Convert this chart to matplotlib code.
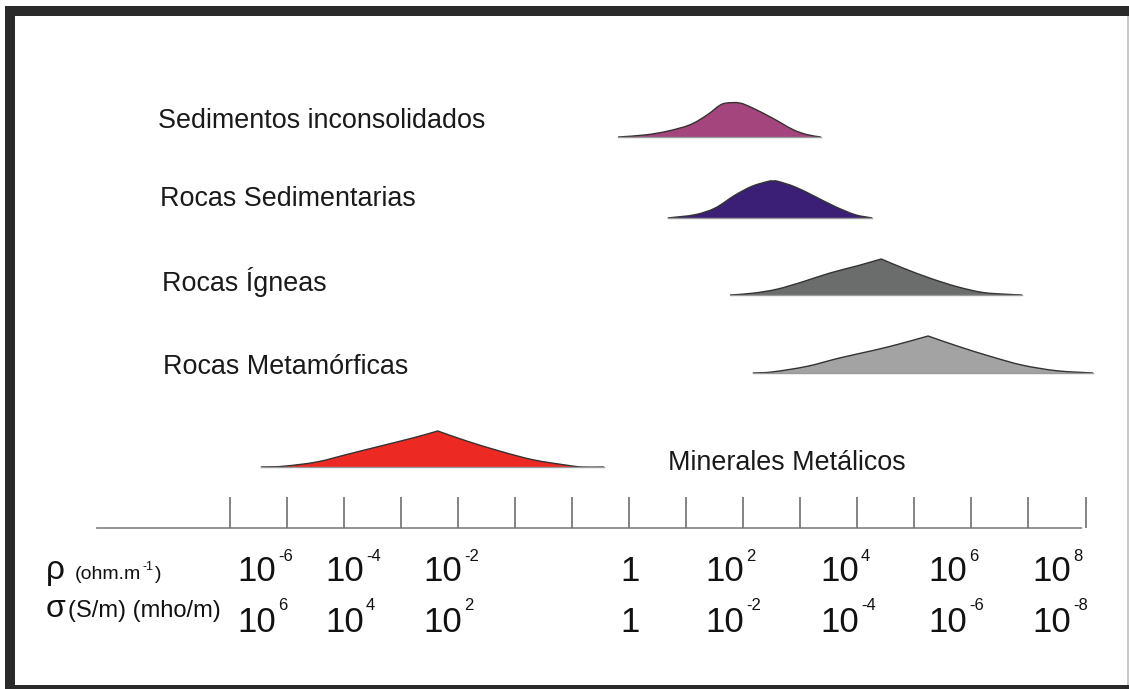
import matplotlib
matplotlib.use("Agg")
import matplotlib.pyplot as plt
from matplotlib.patches import Rectangle, PathPatch
from matplotlib.path import Path
from matplotlib.transforms import offset_copy

plt.rcParams['font.family'] = ['Liberation Sans', 'DejaVu Sans']

# ---------------- data ----------------
categories = ["Sedimentos inconsolidados", "Rocas Sedimentarias", "Rocas Ígneas",
              "Rocas Metamórficas", "Minerales Metálicos"]
colors = ["#a4457d", "#3b1f77", "#6b6c6c", "#a3a3a3", "#ec2a23"]

# log10(resistivity) positions and relative heights of each distribution
sed_inc_x = [-0.19, 0.28, 0.67, 1.07, 1.37, 1.59, 1.72, 1.94, 2.17, 2.52, 2.87, 3.12, 3.36]
sed_inc_h = [0.0, 0.06, 0.17, 0.36, 0.65, 0.93, 1.0, 1.0, 0.85, 0.55, 0.22, 0.07, 0.0]

sed_roc_x = [0.68, 1.16, 1.51, 1.86, 2.16, 2.44, 2.52, 2.61, 2.91, 3.26, 3.61, 3.96, 4.26]
sed_roc_h = [0.0, 0.09, 0.27, 0.62, 0.86, 0.99, 1.0, 0.99, 0.84, 0.58, 0.31, 0.09, 0.0]

ign_x = [1.77, 2.17, 2.59, 3.05, 3.52, 4.00, 4.42, 4.80, 5.27, 5.75, 6.20, 6.62, 6.89]
ign_h = [0.0, 0.05, 0.16, 0.37, 0.61, 0.81, 1.0, 0.75, 0.47, 0.23, 0.07, 0.02, 0.0]

met_x = [2.17, 2.52, 3.12, 3.70, 4.28, 4.75, 5.24, 5.75, 6.33, 6.90, 7.50, 8.13]
met_h = [0.0, 0.03, 0.18, 0.41, 0.61, 0.79, 1.0, 0.73, 0.45, 0.21, 0.06, 0.0]

min_x = [-6.45, -6.06, -5.47, -4.89, -4.31, -3.78, -3.35, -2.84, -2.26, -1.68, -1.09, -0.82, -0.44]
min_h = [0.0, 0.02, 0.14, 0.37, 0.60, 0.81, 1.0, 0.72, 0.44, 0.20, 0.05, 0.0, 0.0]

series_x = [sed_inc_x, sed_roc_x, ign_x, met_x, min_x]
series_h = [sed_inc_h, sed_roc_h, ign_h, met_h, min_h]
pointed_peak = [False, False, True, True, True]

decades = list(range(-7, 9))                  # tick marks (log10 rho)
label_exp = [-6, -4, -2, 0, 2, 4, 6, 8]        # labelled decades

# ---------------- layout ----------------
W, H = 1129, 689
X0, DX = 629.0, 57.07          # pixel of 10^0 and pixels per decade


def px2u(p):
    return (p - X0) / DX


row_base = [137, 218, 295, 373, 467]
row_height = [34, 37, 36, 37, 36]
label_px = [158, 160, 162, 163, 668]
label_base = [128, 206, 291, 374, 470]
tick_label_left = [237, 325, 423, 620, 705, 820, 928, 1032]


def smooth_path(xs, ys, cusp):
    """Catmull-Rom curve through the points as cubic Bezier segments."""
    n = len(xs)
    pk = max(range(n), key=lambda i: -ys[i]) if cusp else None
    tin, tout = [], []
    for i in range(n):
        if i == 0:
            t = (xs[1] - xs[0], ys[1] - ys[0]); a = b = t
        elif i == n - 1:
            t = (xs[i] - xs[i - 1], ys[i] - ys[i - 1]); a = b = t
        elif i == pk:
            a = (xs[i] - xs[i - 1], ys[i] - ys[i - 1])
            b = (xs[i + 1] - xs[i], ys[i + 1] - ys[i])
        else:
            t = ((xs[i + 1] - xs[i - 1]) / 2, (ys[i + 1] - ys[i - 1]) / 2); a = b = t
        tin.append(a); tout.append(b)
    verts = [(xs[0], ys[0])]
    codes = [Path.MOVETO]
    for i in range(n - 1):
        verts += [(xs[i] + tout[i][0] / 3, ys[i] + tout[i][1] / 3),
                  (xs[i + 1] - tin[i + 1][0] / 3, ys[i + 1] - tin[i + 1][1] / 3),
                  (xs[i + 1], ys[i + 1])]
        codes += [Path.CURVE4] * 3
    return verts, codes


fig = plt.figure(figsize=(W / 100, H / 100), dpi=100)

# frame
fig.add_artist(Rectangle((5 / W, 0), 1, (H - 6) / H, transform=fig.transFigure,
                         facecolor="#2a2a2a", edgecolor="none", zorder=-20))
fig.add_artist(Rectangle((15 / W, 4 / H), (1129 - 15) / W, (685 - 16) / H,
                         transform=fig.transFigure, facecolor="#c8c8c8",
                         edgecolor="none", zorder=-19))
fig.add_artist(Rectangle((15 / W, 4 / H), (1127 - 15) / W, (685 - 16) / H,
                         transform=fig.transFigure, facecolor="white",
                         edgecolor="none", zorder=-18))

ax = fig.add_axes([0, 0, 1, 1])
ax.set_xlim(px2u(0), px2u(W))
ax.set_ylim(H, 0)
ax.axis("off")
ax.patch.set_alpha(0)

# distributions
for xs, hs, base, hh, col, cusp in zip(series_x, series_h, row_base, row_height,
                                       colors, pointed_peak):
    ys = [base - h * hh for h in hs]
    verts, codes = smooth_path(xs, ys, cusp)
    fill_verts = verts + [(xs[-1], base), (xs[0], base), (xs[0], ys[0])]
    fill_codes = codes + [Path.LINETO, Path.LINETO, Path.CLOSEPOLY]
    ax.add_patch(PathPatch(Path(fill_verts, fill_codes), facecolor=col,
                           edgecolor="none", zorder=2))
    ax.add_patch(PathPatch(Path(verts, codes), facecolor="none",
                           edgecolor="#333333", linewidth=1.0, zorder=3))
    ax.plot([xs[0], xs[-1]], [base, base], color="#9a9a9a", linewidth=1.0, zorder=3)

# category labels
for name, lx, ly in zip(categories, label_px, label_base):
    ax.text(px2u(lx), ly, name, fontsize=19.4, va="baseline", ha="left", color="#1a1a1a")

# scale axis
ax.plot([px2u(97), px2u(1081)], [528, 528], color="#8a8a8a", linewidth=1.3)
ax.vlines(decades, 497, 528, color="#6e6e6e", linewidth=1.2)

# tick labels: rho row and sigma row
row_y = [581, 632]
exp_raise = [20, 22]
for r in range(2):
    sign = 1 if r == 0 else -1
    for e, lp in zip(label_exp, tick_label_left):
        x = px2u(lp)
        if e == 0:
            ax.text(x, row_y[r], "1", fontsize=25, va="baseline", ha="left", color="#111111")
            continue
        ax.text(x, row_y[r], "10", fontsize=25, va="baseline", ha="left", color="#111111")
        tr = offset_copy(ax.transData, fig=fig, x=41, y=exp_raise[r], units="dots")
        ax.text(x, row_y[r], "%d" % (sign * e), fontsize=12, va="baseline", ha="left",
                color="#111111", transform=tr)

ax.text(px2u(46), 579, "ρ", fontsize=24, va="baseline", ha="left", color="#111111")
t1 = ax.text(px2u(75), 579, "(ohm.m", fontsize=14, va="baseline", ha="left", color="#111111")
t2 = ax.annotate("-1", xy=(1, 0), xycoords=t1, xytext=(1, 7), textcoords="offset points",
                 fontsize=9, va="bottom", ha="left", color="#111111")
ax.annotate(")", xy=(1, 0), xycoords=(t2, t1), xytext=(1, 0), textcoords="offset points",
            fontsize=14, va="bottom", ha="left", color="#111111")
ax.text(px2u(46), 617, "σ", fontsize=23, va="baseline", ha="left", color="#111111")
ax.text(px2u(68), 617, "(S/m) (mho/m)", fontsize=17, va="baseline", ha="left", color="#111111")

fig.savefig("out.png", dpi=100)
